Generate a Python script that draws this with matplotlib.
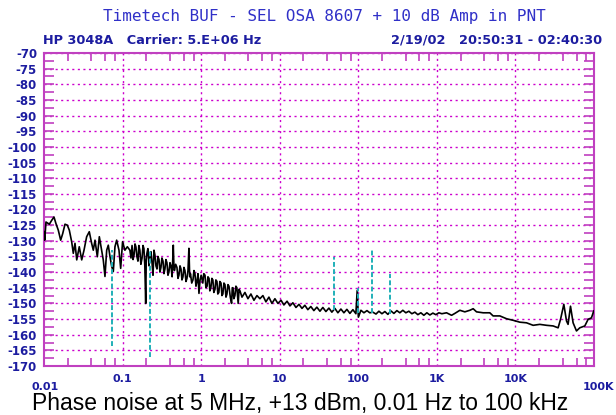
#importaciones
import matplotlib
matplotlib.use('Agg')
import matplotlib.pyplot as plt
from matplotlib.ticker import FixedLocator, LogLocator, NullFormatter, FixedFormatter

#datos, por tramos de frecuencia

# 0.01 - 0.12 Hz
freq_a = [0.0100, 0.0102, 0.0106, 0.0117, 0.0125, 0.0134, 0.0142, 0.0152, 0.0163, 0.0173,
          0.0185, 0.0198, 0.0210, 0.0225, 0.0236, 0.0248, 0.0261, 0.0281, 0.0302, 0.0323,
          0.0349, 0.0377, 0.0404, 0.0424, 0.0446, 0.0477, 0.0506, 0.0542, 0.0568, 0.0597,
          0.0628, 0.0658, 0.0692, 0.0727, 0.0762, 0.0800, 0.0841, 0.0900, 0.0946, 0.100,
          0.107, 0.115, 0.124]
dbc_a = [-127.1, -129.8, -124.0, -124.7, -123.5, -122.4, -124.5, -126.6, -129.8, -127.7,
         -124.7, -125.0, -126.6, -130.3, -134.0, -130.8, -136.1, -131.9, -136.1, -133.0,
         -128.7, -127.1, -130.8, -133.0, -129.8, -135.1, -128.7, -133.0, -136.1, -141.4,
         -133.0, -131.4, -135.1, -138.2, -139.8, -131.9, -129.8, -133.0, -138.8, -130.3,
         -133.0, -131.9, -133.0]

# 0.12 - 1 Hz
freq_b = [0.128, 0.132, 0.136, 0.140, 0.144, 0.148, 0.152, 0.157, 0.161, 0.166,
          0.171, 0.177, 0.182, 0.187, 0.192, 0.197, 0.200, 0.204, 0.210, 0.217,
          0.223, 0.230, 0.237, 0.244, 0.251, 0.258, 0.266, 0.274, 0.282, 0.291,
          0.299, 0.308, 0.317, 0.327, 0.336, 0.346, 0.356, 0.367, 0.378, 0.389,
          0.401, 0.413, 0.427, 0.442, 0.450, 0.457, 0.474, 0.492, 0.507, 0.522,
          0.538, 0.554, 0.570, 0.587, 0.604, 0.622, 0.641, 0.660, 0.680, 0.699,
          0.715, 0.731, 0.759, 0.787, 0.810, 0.834, 0.859, 0.885, 0.911, 0.938,
          0.969, 1.00]
dbc_b = [-135.5, -131.5, -136.0, -134.5, -131.0, -132.0, -135.0, -136.5, -131.5, -133.0,
         -137.5, -135.5, -131.5, -132.5, -138.0, -150.0, -136.0, -134.0, -132.5, -138.0,
         -135.0, -133.5, -137.0, -141.0, -133.0, -134.5, -138.0, -139.0, -135.0, -136.0,
         -140.0, -138.5, -135.5, -136.5, -140.5, -139.0, -136.0, -137.0, -141.0, -140.0,
         -137.0, -138.0, -141.5, -131.4, -138.0, -139.5, -137.5, -138.5, -142.0, -141.0,
         -138.0, -139.0, -142.5, -141.5, -138.5, -139.5, -143.0, -142.0, -139.5, -132.4,
         -141.5, -140.5, -143.5, -142.5, -139.5, -140.5, -144.5, -143.0, -140.5, -146.8,
         -142.5, -141.0]

# 1 - 10 Hz
freq_c = [1.05, 1.08, 1.12, 1.15, 1.19, 1.22, 1.26, 1.29, 1.33, 1.37,
          1.41, 1.45, 1.50, 1.54, 1.59, 1.63, 1.68, 1.73, 1.79, 1.84,
          1.89, 1.95, 2.01, 2.07, 2.13, 2.19, 2.26, 2.35, 2.44, 2.49,
          2.54, 2.61, 2.69, 2.77, 2.85, 2.96, 3.04, 3.12, 3.31, 3.61,
          3.94, 4.30, 4.70, 5.13, 5.60, 6.11, 6.67, 7.29, 7.96, 8.69,
          9.48, 10.4]
dbc_c = [-143.5, -140.5, -141.0, -145.0, -144.5, -141.5, -142.0, -146.0, -145.0, -142.0,
         -142.5, -146.5, -145.5, -142.5, -143.0, -147.0, -146.5, -143.0, -143.5, -147.5,
         -147.0, -143.5, -144.0, -148.0, -147.0, -144.0, -144.5, -148.0, -150.0, -145.0,
         -145.0, -148.5, -147.5, -144.5, -145.0, -150.0, -145.5, -146.0, -148.0, -146.5,
         -148.5, -147.0, -149.0, -147.5, -148.5, -147.5, -149.5, -148.0, -150.0, -148.5,
         -150.0, -149.0]

# 10 - 140 Hz
freq_d = [11.3, 12.4, 13.5, 14.7, 16.1, 17.6, 19.2, 20.9, 22.8, 24.9,
          27.2, 29.7, 32.5, 35.4, 38.7, 42.3, 46.1, 50.4, 55.0, 60.1,
          65.6, 71.6, 78.2, 85.4, 93.2, 96.8, 100.3, 108, 118, 129, 140]
dbc_d = [-150.5, -149.3, -150.8, -149.8, -151.3, -150.3, -151.6, -150.6, -152.0, -151.0,
         -152.3, -151.2, -152.5, -151.3, -152.6, -151.5, -152.8, -151.6, -153.0, -151.8,
         -153.0, -151.9, -153.2, -152.0, -153.3, -145.9, -154.4, -152.2, -153.0, -152.3, -153.0]

# 150 Hz - 1.2 kHz
freq_e = [153, 168, 183, 200, 218, 238, 260, 284, 310, 338,
          369, 403, 440, 481, 525, 573, 626, 683, 746, 815,
          890, 971, 1060, 1158]
dbc_e = [-152.8, -153.4, -152.5, -153.3, -152.6, -153.5, -152.4, -153.2, -152.3, -153.0,
         -152.2, -153.0, -152.5, -153.3, -152.8, -153.6, -153.0, -153.8, -153.0, -153.7,
         -153.1, -153.6, -153.0, -153.3]

# 1.3 kHz - 11 kHz
freq_f = [1328, 1539, 1694, 1963, 2271, 2630, 2897, 3200, 3882, 4721,
          5200, 6339, 7709, 9352, 11380]
dbc_f = [-153.0, -153.8, -153.2, -152.2, -152.7, -152.2, -151.7, -152.7, -153.0, -153.0,
         -154.0, -154.0, -154.9, -155.4, -156.0]

# 11 kHz - 100 kHz
freq_g = [13840, 16800, 20420, 24880, 30190, 34930, 37500, 41300, 44670, 46770,
          50230, 54200, 59840, 65920, 76380, 84140, 92900, 99300]
dbc_g = [-156.2, -157.0, -156.7, -157.0, -157.2, -157.8, -155.1, -150.3, -155.6, -156.7,
         -150.9, -156.2, -158.8, -157.8, -157.2, -155.1, -154.6, -152.4]

# espurias (lineas cian)
spur_hz = [0.0726, 0.2235, 49.7, 100, 150.3, 252.6]
spur_top = [-133.0, -133.0, -135.1, -145.2, -132.9, -140.6]
spur_bottom = [-163.5, -167.0, -152.0, -153.0, -153.0, -153.5]

y_ticks = list(range(-70, -171, -5))
x_ticks = [0.1, 1, 10, 100, 1e3, 1e4]
x_tick_labels = ['0.1', '1', '10', '100', '1K', '10K']

freq_hz = freq_a + freq_b + freq_c + freq_d + freq_e + freq_f + freq_g
noise_dbc = dbc_a + dbc_b + dbc_c + dbc_d + dbc_e + dbc_f + dbc_g

W, H = 616, 415
magenta = '#c040c0'
azul = '#1c1ca0'

#grafica

fig = plt.figure(figsize=(W / 100, H / 100), dpi=100)
ax = fig.add_axes([44 / W, 1 - 366 / H, 550 / W, 313 / H])

ax.plot(freq_hz, noise_dbc, color='black', lw=1.2, zorder=3)
ax.vlines(spur_hz, spur_bottom, spur_top, colors='#20b0b8', lw=1.4,
          linestyles=(0, (2.5, 1.2)), zorder=4)

ax.set_xscale('log')
ax.set_xlim(0.01, 1e5)
ax.set_ylim(-170, -70)

# rejilla y marco
for s in ax.spines.values():
    s.set_color(magenta)
    s.set_linewidth(1.5)

ax.xaxis.set_major_locator(FixedLocator(x_ticks))
ax.xaxis.set_major_formatter(FixedFormatter(x_tick_labels))
ax.xaxis.set_minor_locator(LogLocator(base=10, subs=(2, 4, 6, 8), numticks=20))
ax.xaxis.set_minor_formatter(NullFormatter())
ax.yaxis.set_major_locator(FixedLocator(y_ticks))
ax.yaxis.set_major_formatter(FixedFormatter([str(v) for v in y_ticks]))
ax.yaxis.set_minor_locator(FixedLocator([v - 2.5 for v in y_ticks[:-1]]))

ax.tick_params(axis='x', which='major', length=0, pad=6, labelsize=8,
               labelcolor=azul)
ax.tick_params(axis='x', which='minor', direction='in', length=6,
               color=magenta, width=1.2, top=True, bottom=True)
ax.tick_params(axis='y', which='both', direction='in', length=7,
               color=magenta, width=1.2, left=True, right=True,
               labelsize=8.5, labelcolor=azul, pad=5)
for lab in ax.get_xticklabels() + ax.get_yticklabels():
    lab.set_fontweight('bold')

ax.grid(True, which='major', color='#cc00cc', linestyle=(0, (1.5, 2.5)), lw=1)

# textos
fig.text(324 / W, 1 - 17 / H, 'Timetech BUF - SEL OSA 8607 + 10 dB Amp in PNT',
         family='DejaVu Sans Mono', fontsize=11.5, color='#3030c8',
         ha='center', va='center')
fig.text(43 / W, 1 - 40 / H, 'HP 3048A   Carrier: 5.E+06 Hz', fontsize=9.3,
         fontweight='bold', color=azul, ha='left', va='center')
fig.text(602 / W, 1 - 40 / H, '2/19/02   20:50:31 - 02:40:30', fontsize=9.3,
         fontweight='bold', color=azul, ha='right', va='center')
fig.text(45 / W, 1 - 387 / H, '0.01', fontsize=8, fontweight='bold',
         color=azul, ha='center', va='center')
fig.text(614 / W, 1 - 387 / H, '100K', fontsize=8, fontweight='bold',
         color=azul, ha='right', va='center')
fig.text(300 / W, 1 - 410 / H, 'Phase noise at 5 MHz, +13 dBm, 0.01 Hz to 100 kHz',
         family='Liberation Sans', fontsize=16.5, color='black',
         ha='center', va='baseline')

fig.savefig('out.png', dpi=100)
